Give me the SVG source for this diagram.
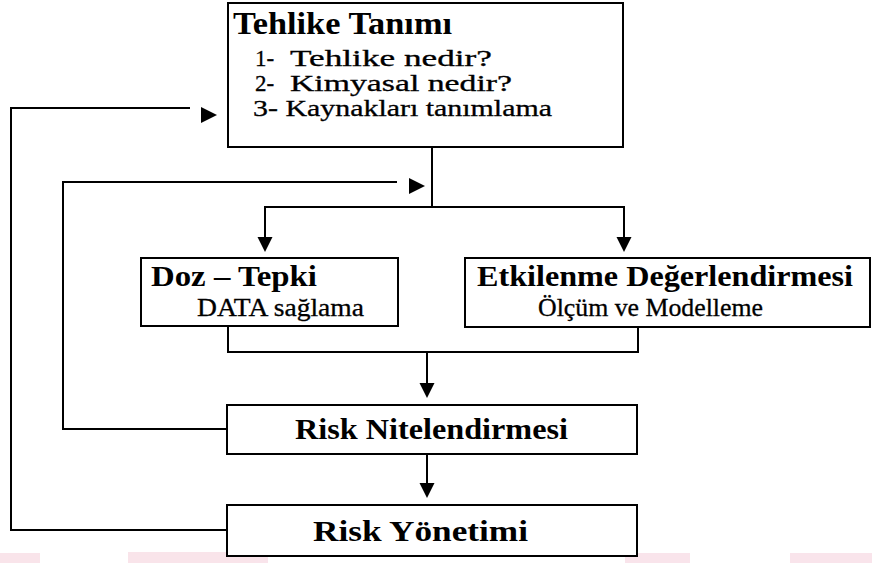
<svg xmlns="http://www.w3.org/2000/svg" width="872" height="563" viewBox="0 0 872 563">
  <style>
    .box { fill: #ffffff; stroke: #000000; stroke-width: 2; }
    .wire { fill: none; stroke: #000000; stroke-width: 2; }
    .head { fill: #000000; }
    .t { font-family: "Liberation Serif", "Times New Roman", serif; fill: #000000; }
    .b { font-weight: bold; }
    .h1 { font-size: 31px; }
    .h2 { font-size: 29px; }
    .r { font-size: 25px; stroke: #000000; stroke-width: 0.3; }
    .li { font-size: 23px; stroke: #000000; stroke-width: 0.3; }
    .smear { fill: #f7d9e2; }
  </style>
  <defs>
    <path id="arrowRight" class="head" d="M0,-8 L16,0 L0,8 Z"/>
    <path id="arrowDown" class="head" d="M-7.5,0 L7.5,0 L0,15 Z"/>
  </defs>
  <rect width="872" height="563" fill="#ffffff"/>

  <!-- faint marks along the lower edge -->
  <g id="edge-marks" opacity="0.7">
    <rect class="smear" x="0" y="553" width="40" height="10"/>
    <rect class="smear" x="128" y="552" width="140" height="11"/>
    <rect class="smear" x="625" y="553" width="65" height="10"/>
    <rect class="smear" x="790" y="553" width="82" height="10"/>
  </g>

  <!-- connectors -->
  <g id="connectors">
    <!-- feedback from Risk Yönetimi to Tehlike Tanımı -->
    <polyline class="wire" points="227,530 11,530 11,108 190,108"/>
    <use href="#arrowRight" x="201" y="115"/>
    <!-- feedback from Risk Nitelendirmesi -->
    <polyline class="wire" points="227,429 63,429 63,182 397,182"/>
    <use href="#arrowRight" x="409" y="186"/>
    <!-- split below Tehlike Tanımı -->
    <polyline class="wire" points="432,147 432,207"/>
    <polyline class="wire" points="265,238 265,207 624,207 624,238"/>
    <use href="#arrowDown" x="265" y="237"/>
    <use href="#arrowDown" x="624" y="237"/>
    <!-- merge into Risk Nitelendirmesi -->
    <polyline class="wire" points="228,326 228,352 638,352 638,327"/>
    <line class="wire" x1="427" y1="352" x2="427" y2="384"/>
    <use href="#arrowDown" x="427" y="383"/>
    <!-- Risk Nitelendirmesi to Risk Yönetimi -->
    <line class="wire" x1="427" y1="454" x2="427" y2="484"/>
    <use href="#arrowDown" x="427" y="483"/>
  </g>

  <g id="tehlike-tanimi">
    <rect class="box" x="228" y="3" width="395" height="144"/>
    <text class="t b h1" x="233" y="34" textLength="219" lengthAdjust="spacingAndGlyphs">Tehlike Tanımı</text>
    <text class="t li" x="255" y="66">1-</text>
    <text class="t li" x="290" y="66" textLength="202" lengthAdjust="spacingAndGlyphs">Tehlike nedir?</text>
    <text class="t li" x="255" y="91">2-</text>
    <text class="t li" x="290" y="91" textLength="222" lengthAdjust="spacingAndGlyphs">Kimyasal nedir?</text>
    <text class="t li" x="253" y="116" textLength="299" lengthAdjust="spacingAndGlyphs">3- Kaynakları tanımlama</text>
  </g>

  <g id="doz-tepki">
    <rect class="box" x="141" y="258" width="257" height="68"/>
    <text class="t b h2" x="151" y="286" textLength="166" lengthAdjust="spacingAndGlyphs">Doz – Tepki</text>
    <text class="t r" x="197" y="316" textLength="167" lengthAdjust="spacingAndGlyphs">DATA sağlama</text>
  </g>

  <g id="etkilenme">
    <rect class="box" x="465" y="258" width="405" height="69"/>
    <text class="t b h2" x="477" y="286" textLength="376" lengthAdjust="spacingAndGlyphs">Etkilenme Değerlendirmesi</text>
    <text class="t r" x="538" y="316" textLength="225" lengthAdjust="spacingAndGlyphs">Ölçüm ve Modelleme</text>
  </g>

  <g id="risk-nitelendirmesi">
    <rect class="box" x="227" y="405" width="410" height="49"/>
    <text class="t b h2" x="295" y="439" textLength="273" lengthAdjust="spacingAndGlyphs">Risk Nitelendirmesi</text>
  </g>

  <g id="risk-yonetimi">
    <rect class="box" x="227" y="505" width="410" height="51"/>
    <text class="t b h2" x="313" y="541" textLength="215" lengthAdjust="spacingAndGlyphs">Risk Yönetimi</text>
  </g>
</svg>
